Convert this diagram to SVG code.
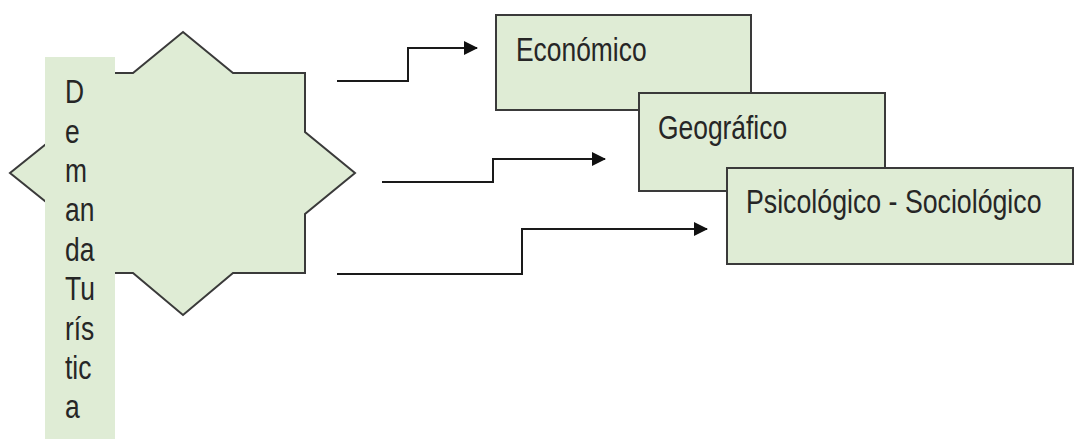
<svg xmlns="http://www.w3.org/2000/svg" width="1075" height="439" viewBox="0 0 1075 439">
<style>
.shape{fill:#DFECD5;stroke:#3a3a3a;stroke-width:2}
.band{fill:#DFECD5;stroke:none}
.lbl{font-family:"Liberation Sans",Arial,sans-serif;font-size:33px;fill:#262626}
.conn{fill:none;stroke:#1a1a1a;stroke-width:2}
</style>
<defs>
<marker id="arr" viewBox="0 0 14 14" refX="13" refY="7" markerWidth="14" markerHeight="14" markerUnits="userSpaceOnUse" orient="auto">
<path d="M0,0 L14,7 L0,14 Z" fill="#111"/>
</marker>
</defs>
<g id="demanda">
<polygon class="shape" points="183,32 233,73 305,73 305,132 355,173 305,214 305,273 233,273 183,315 133,273 61,273 61,214 10,173 61,132 61,73 133,73"/>
<rect class="band" x="45" y="57" width="70" height="382"/>
<g class="lbl" transform="translate(65,0) scale(0.8,1)">
<text x="0" y="103">D</text>
<text x="0" y="143">e</text>
<text x="0" y="182">m</text>
<text x="0" y="221">an</text>
<text x="0" y="261">da</text>
<text x="0" y="300">Tu</text>
<text x="0" y="340">rís</text>
<text x="0" y="379">tic</text>
<text x="0" y="418">a</text>
</g>
</g>
<g id="connectors">
<polyline class="conn" points="337,81 408,81 408,48 477,48" marker-end="url(#arr)"/>
<polyline class="conn" points="382,182 493,182 493,159 605,159" marker-end="url(#arr)"/>
<polyline class="conn" points="337,274 522,274 522,229 707,229" marker-end="url(#arr)"/>
</g>
<g id="economico">
<rect class="shape" x="496" y="15" width="255" height="95"/>
<text class="lbl" transform="translate(516,61) scale(0.8,1)">Económico</text>
</g>
<g id="geografico">
<rect class="shape" x="639" y="93" width="246" height="98"/>
<text class="lbl" transform="translate(658,139) scale(0.8,1)">Geográfico</text>
</g>
<g id="psicologico">
<rect class="shape" x="727" y="168" width="346" height="96"/>
<text class="lbl" transform="translate(746,213) scale(0.81,1)">Psicológico - Sociológico</text>
</g>
</svg>
